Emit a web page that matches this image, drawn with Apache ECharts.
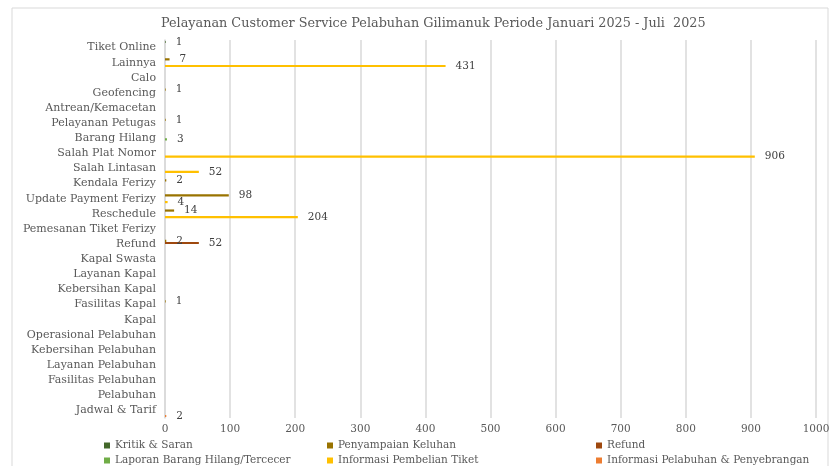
<!DOCTYPE html>
<html>
<head>
<meta charset="utf-8">
<script src="https://cdn.jsdelivr.net/npm/echarts@6/dist/echarts.min.js"></script>
<style>
  html, body { margin: 0; padding: 0; background: #fff; }
  #chart { width: 840px; height: 466px; }
</style>
</head>
<body>
<div id="chart"></div>
<script>
// kategori dari atas ke bawah
var categories = ['Tiket Online', 'Lainnya', 'Calo', 'Geofencing', 'Antrean/Kemacetan',
  'Pelayanan Petugas', 'Barang Hilang', 'Salah Plat Nomor', 'Salah Lintasan', 'Kendala Ferizy',
  'Update Payment Ferizy', 'Reschedule', 'Pemesanan Tiket Ferizy', 'Refund', 'Kapal Swasta',
  'Layanan Kapal', 'Kebersihan Kapal', 'Fasilitas Kapal', 'Kapal', 'Operasional Pelabuhan',
  'Kebersihan Pelabuhan', 'Layanan Pelabuhan', 'Fasilitas Pelabuhan', 'Pelabuhan', 'Jadwal & Tarif'];

var seriesNames = ['Kritik & Saran', 'Penyampaian Keluhan', 'Refund',
  'Laporan Barang Hilang/Tercecer', 'Informasi Pembelian Tiket', 'Informasi Pelabuhan & Penyebrangan'];

// '-' = kosong
var kritikSaran = [1,'-','-','-','-','-','-','-','-','-','-','-','-','-','-','-','-','-','-','-','-','-','-','-','-'];
var keluhan     = ['-',7,'-',1,'-',1,'-','-','-',2,98,14,'-',2,'-','-','-',1,'-','-','-','-','-','-','-'];
var refund      = ['-','-','-','-','-','-','-','-','-','-','-','-','-',52,'-','-','-','-','-','-','-','-','-','-','-'];
var laporan     = ['-','-','-','-','-','-',3,'-','-','-','-','-','-','-','-','-','-','-','-','-','-','-','-','-','-'];
var pembelian   = ['-',431,'-','-','-','-','-',906,52,'-',4,204,'-','-','-','-','-','-','-','-','-','-','-','-','-'];
var pelabuhan   = ['-','-','-','-','-','-','-','-','-','-','-','-','-','-','-','-','-','-','-','-','-','-','-','-',2];

var xTicks = [0, 1000, 100];  // min, max, interval

var colors = ['#43682b', '#997300', '#9e480e', '#70ad47', '#ffc000', '#ed7d31'];
var values = [kritikSaran, keluhan, refund, laporan, pembelian, pelabuhan];

var font = 'DejaVu Serif';
var txt = '#595959';

var myChart = echarts.init(document.getElementById('chart'));

var series = seriesNames.map(function (name, i) {
  return {
    name: name,
    type: 'bar',
    data: values[i],
    itemStyle: { color: colors[i] },
    barGap: '0%',
    barCategoryGap: '12%',
    label: {
      show: true,
      position: 'right',
      distance: 10,
      color: '#404040',
      fontFamily: font,
      fontSize: 10.5
    }
  };
});

// legend 3 kolom x 2 baris, satu legend per item
var legendLeft = [104, 327, 596];
var legendTop = [440, 455];
var legends = seriesNames.map(function (name, i) {
  return {
    left: legendLeft[i % 3],
    top: legendTop[Math.floor(i / 3)],
    padding: 0,
    itemWidth: 6,
    itemHeight: 6,
    itemTextGap: 3,
    icon: 'rect',
    data: [name],
    textStyle: { color: txt, fontFamily: font, fontSize: 10.5 }
  };
});

var option = {
  animation: false,
  color: colors,
  title: {
    text: 'Pelayanan Customer Service Pelabuhan Gilimanuk Periode Januari 2025 - Juli  2025',
    left: 156,
    top: 12,
    textStyle: { color: txt, fontFamily: font, fontSize: 12.8, fontWeight: 'normal' }
  },
  legend: legends,
  grid: { left: 165, right: 24, top: 40, bottom: 48 },
  xAxis: {
    type: 'value',
    min: xTicks[0],
    max: xTicks[1],
    interval: xTicks[2],
    axisLine: { show: false },
    axisTick: { show: false },
    axisLabel: {
      color: txt, fontFamily: font, fontSize: 10.5, margin: 6,
      formatter: function (v) { return String(v); }
    },
    splitLine: { lineStyle: { color: '#d9d9d9', width: 1.5 } }
  },
  yAxis: {
    type: 'category',
    inverse: true,
    data: categories,
    axisTick: { show: false },
    axisLine: { lineStyle: { color: '#d9d9d9', width: 1.5 } },
    axisLabel: { color: txt, fontFamily: font, fontSize: 11, margin: 9, interval: 0 }
  },
  graphic: [{
    type: 'rect',
    shape: { x: 12, y: 8, width: 816, height: 470 },
    style: { fill: 'none', stroke: '#d9d9d9', lineWidth: 1 },
    silent: true
  }],
  series: series
};
myChart.setOption(option);
</script>
</body>
</html>
